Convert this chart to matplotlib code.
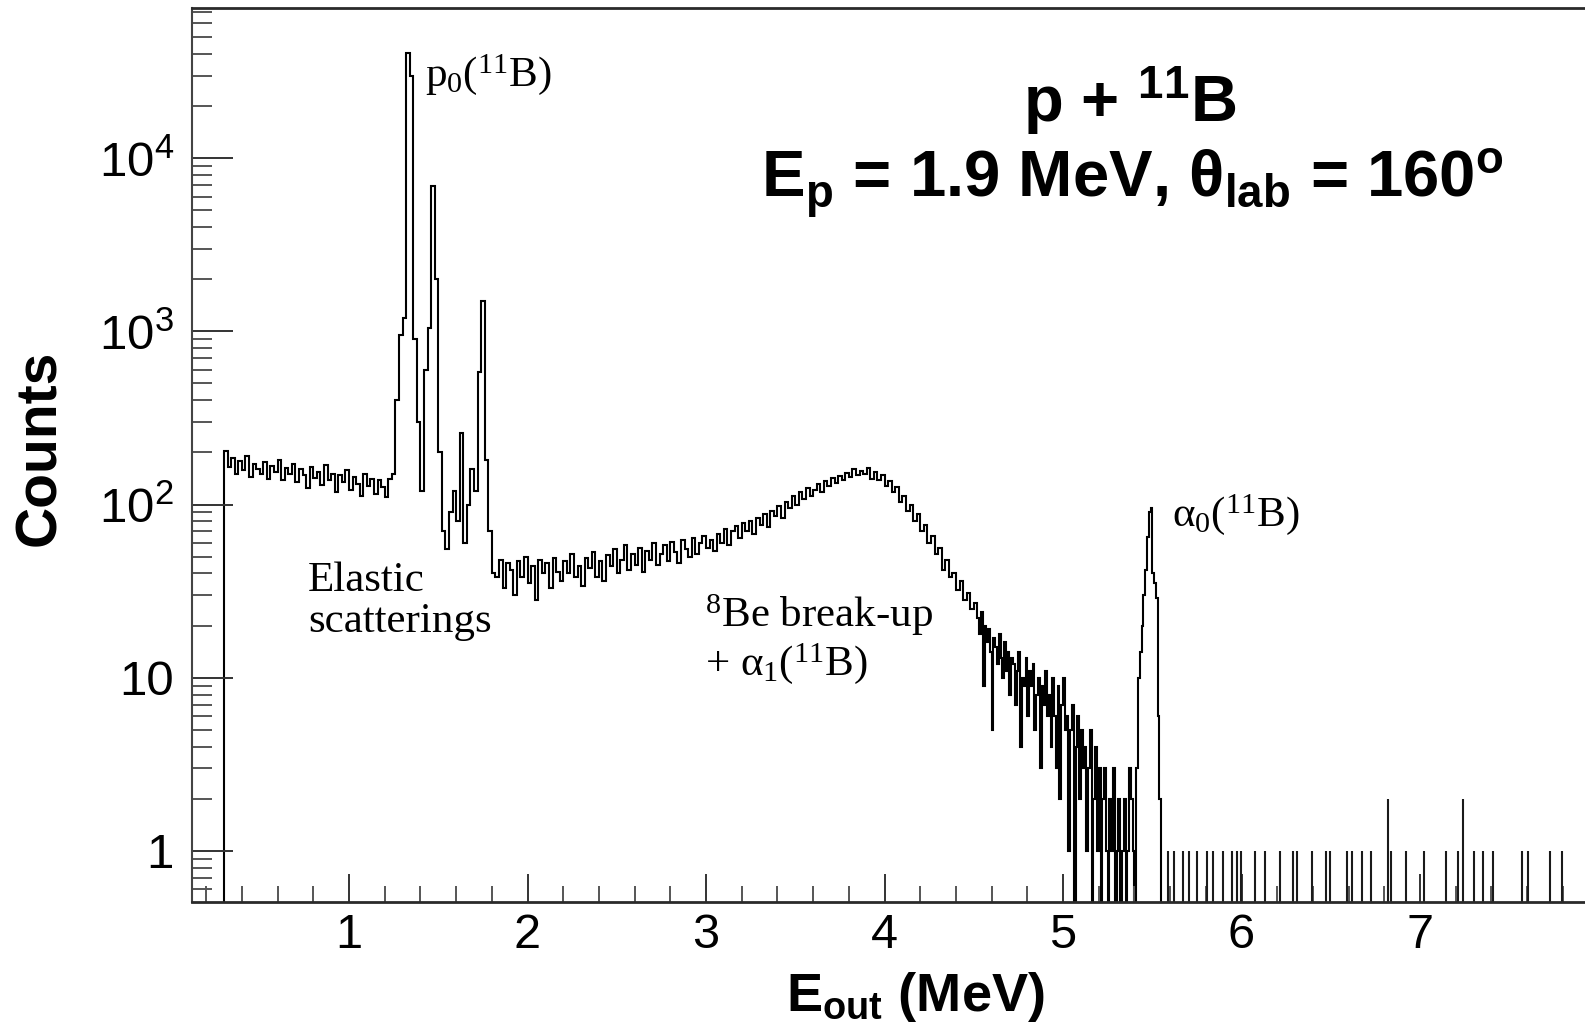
import numpy as np
import matplotlib
matplotlib.use('Agg')
import matplotlib.pyplot as plt
from matplotlib.ticker import FixedLocator, FixedFormatter, LogLocator, NullFormatter, MultipleLocator

plt.rcParams['font.family'] = ['Liberation Sans', 'DejaVu Sans']
plt.rcParams['mathtext.fontset'] = 'custom'
plt.rcParams['mathtext.rm'] = 'Liberation Serif'
plt.rcParams['mathtext.it'] = 'Liberation Serif:italic'
plt.rcParams['mathtext.bf'] = 'Liberation Sans:bold'
plt.rcParams['mathtext.sf'] = 'Liberation Sans'

# spectrum: 0.02 MeV bins from 0.30 to 4.52 MeV,
# then 0.01 MeV bins from 4.52 to 5.56 MeV
coarse_start = 0.30
coarse_width = 0.02
fine_start = 4.52
fine_width = 0.01

counts_low = [205, 165, 185, 150, 178, 158, 190, 145, 172, 160,
              150, 176, 140, 168, 155, 180, 138, 162, 150, 172,
              135, 160, 148, 125, 165, 142, 155, 130, 170, 138,
              150, 118, 148, 135, 158, 122, 145, 132, 112, 150,
              128, 140, 115, 138, 126, 110, 140]
counts_peaks = [150, 400, 950, 1200, 40500, 30000, 900, 300, 120, 600,
                1050, 6900, 2000, 200, 70, 55, 90, 120, 80, 260,
                60, 100, 160, 120, 580, 1500, 180, 70, 40]
counts_flat = [38, 48, 33, 46, 42, 30, 47, 38, 50, 35,
               44, 28, 48, 40, 46, 33, 49, 41, 36, 47,
               40, 52, 38, 44, 34, 49, 43, 53, 38, 47,
               36, 51, 44, 55, 40, 48, 58, 42, 52, 45,
               56, 41, 54, 48, 60, 45, 52, 58, 47, 61,
               53, 46, 62, 55, 50, 64, 52, 60, 66, 56]
counts_rise = [62, 54, 68, 60, 72, 58, 70, 75, 64, 78,
               70, 80, 68, 84, 76, 88, 74, 92, 86, 98,
               84, 104, 96, 112, 100, 118, 108, 124, 112, 122,
               132, 118, 136, 128, 142, 134, 146, 138, 152, 144,
               160, 148, 156]
counts_fall = [150, 162, 140, 154, 138, 148, 128, 136, 118, 126,
               104, 112, 92, 100, 80, 88, 70, 76, 60, 66,
               52, 56, 42, 48, 38, 40, 32, 36, 28, 31,
               25, 27]
# fine bins
counts_tail = [22, 18, 24, 9, 20, 16, 19, 14, 5, 17,
               15, 12, 18, 13, 10, 16, 11, 14, 8, 13,
               12, 7, 11, 14, 4, 10, 9, 13, 6, 11,
               9, 12, 5, 8, 10, 3, 9, 7, 11, 6,
               8, 4, 10, 6, 3, 9, 2, 7, 10, 5,
               6, 1, 5, 7, 0, 4, 6, 2, 5, 3,
               4, 1, 3, 5, 0, 2, 4, 1, 3, 0,
               2, 3, 1, 0, 2, 1, 3, 0, 1, 2,
               0, 1, 2, 0, 1, 3, 2, 1, 0, 3]
counts_alpha0 = [10, 14, 20, 30, 42, 65, 90, 96, 40, 35, 29, 6, 2, 0]

# isolated high-energy events (MeV) and their counts
event_e = [5.588, 5.622, 5.672, 5.706, 5.751, 5.807, 5.840, 5.896, 5.947, 5.975,
           5.997, 6.076, 6.132, 6.216, 6.289, 6.311, 6.395, 6.474, 6.496, 6.591,
           6.619, 6.672, 6.723, 6.818, 6.840, 6.919, 7.020, 7.143, 7.210, 7.241,
           7.303, 7.353, 7.409, 7.571, 7.605, 7.728, 7.796]
event_n = [1, 1, 1, 1, 1, 1, 1, 1, 1, 1,
           1, 1, 1, 1, 1, 1, 1, 1, 1, 1,
           1, 1, 1, 2, 1, 1, 1, 1, 1, 2,
           1, 1, 1, 1, 1, 1, 1]

ytick_vals = [1, 10, 100, 1000, 10000]
ytick_text = ['1', '10', r'$\mathregular{10^{2}}$', r'$\mathregular{10^{3}}$', r'$\mathregular{10^{4}}$']

coarse = counts_low + counts_peaks + counts_flat + counts_rise + counts_fall
fine = counts_tail + counts_alpha0
counts = np.array(coarse + fine, dtype=float)
edges = np.concatenate([coarse_start + coarse_width * np.arange(len(coarse) + 1),
                        fine_start + fine_width * np.arange(1, len(fine) + 1)])
floor = 0.1
shown = np.where(counts > 0, counts, floor)

W, H = 1585, 1028
fig = plt.figure(figsize=(W / 100, H / 100), dpi=100)
ax = fig.add_axes([192 / W, 1 - 902 / H, 1 - 192 / W, (902 - 8) / H])

ax.stairs(shown, edges, baseline=floor, color='black', lw=1.5)
ax.vlines(event_e, floor, event_n, color='#1a1a1a', lw=1.5)

ax.set_yscale('log')
ax.set_xlim(0.1204, 7.924)
ax.set_ylim(0.507, 73600)

ax.yaxis.set_major_locator(FixedLocator(ytick_vals))
ax.yaxis.set_major_formatter(FixedFormatter(ytick_text))
ax.yaxis.set_minor_locator(LogLocator(base=10, subs=range(2, 10)))
ax.yaxis.set_minor_formatter(NullFormatter())
ax.xaxis.set_major_locator(MultipleLocator(1))
ax.xaxis.set_minor_locator(MultipleLocator(0.2))

ax.tick_params(axis='y', which='major', direction='in', length=29.5, width=1.4,
               labelsize=35.5, pad=13, color='#333333')
ax.tick_params(axis='y', which='minor', direction='in', length=14.4, width=1.4, color='#555555')
ax.tick_params(axis='x', which='major', direction='in', length=20, width=1.4,
               labelsize=35, pad=8, color='#333333')
ax.tick_params(axis='x', which='minor', direction='in', length=11.5, width=1.4, color='#555555')

for side in ['top', 'bottom']:
    ax.spines[side].set_linewidth(2.0)
    ax.spines[side].set_color('#2a2a2a')
ax.spines['left'].set_linewidth(1.5)
ax.spines['left'].set_color('#444444')
ax.spines['right'].set_visible(False)

# axis titles
fig.text(40 / W, 1 - 448 / H, 'Counts', rotation=90, ha='center', va='center',
         fontsize=41, fontweight='bold')
fig.text(915 / W, 1 - 1011 / H, r'$\mathbf{E_{out}}$ (MeV)', ha='center', va='baseline',
         fontsize=39, fontweight='bold')

# reaction label
fig.text(1130 / W, 1 - 123 / H, r'p + $\mathbf{^{11}}$B', ha='center', va='baseline',
         fontsize=47, fontweight='bold')
fig.text(1132 / W, 1 - 198 / H, r'$\mathbf{E_p}$ = 1.9 MeV, $\mathbf{θ_{lab}}$ = 160$\mathbf{^{o}}$',
         ha='center', va='baseline', fontsize=47, fontweight='bold')

# peak annotations
serif = dict(fontsize=31, fontfamily='Liberation Serif', va='baseline', ha='left')
fig.text(425 / W, 1 - 86 / H, r'p$_0$($^{11}$B)', **serif)
fig.text(308 / W, 1 - 591 / H, 'Elastic', **serif)
fig.text(308 / W, 1 - 632 / H, 'scatterings', **serif)
fig.text(705 / W, 1 - 627 / H, r'$^{8}$Be break-up', **serif)
fig.text(705 / W, 1 - 675 / H, r'+ α$_1$($^{11}$B)', **serif)
fig.text(1172 / W, 1 - 526 / H, r'α$_0$($^{11}$B)', **serif)

fig.savefig('out.png', dpi=100)
